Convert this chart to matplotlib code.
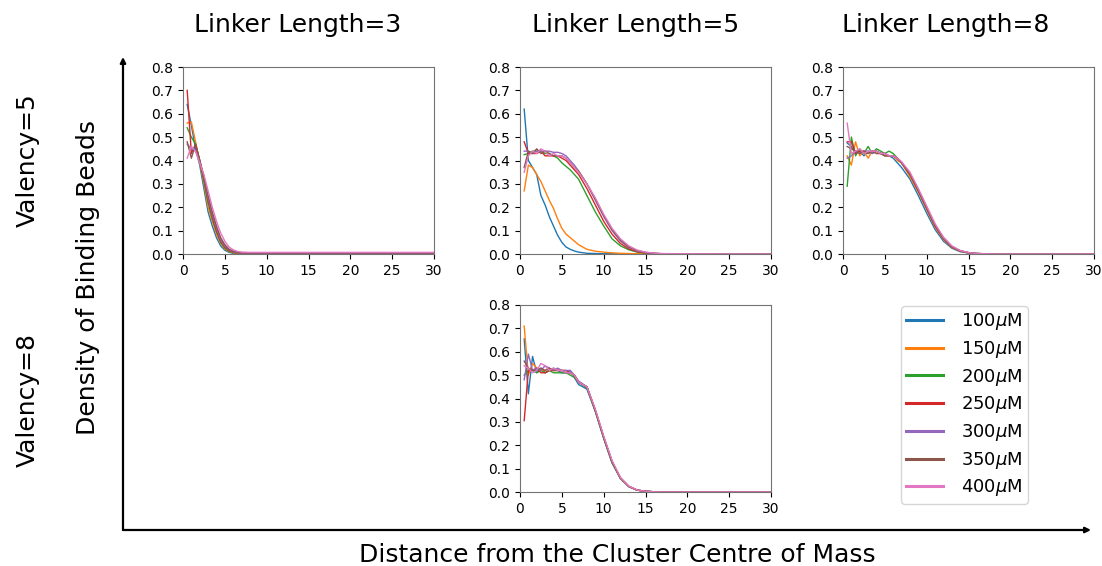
import matplotlib
matplotlib.use("Agg")
import matplotlib.pyplot as plt
from matplotlib.patches import FancyArrowPatch

# bin centres (distance from cluster centre of mass)
r = [0.5, 1.0, 1.5, 2.0, 2.5, 3.0, 3.5, 4.0, 4.5, 5.0, 5.5, 6.0, 6.5, 7.0,
     8, 9, 10, 11, 12, 13, 14, 15, 16, 17, 18, 30]

conc_labels = ["100$\\mu$M", "150$\\mu$M", "200$\\mu$M", "250$\\mu$M",
               "300$\\mu$M", "350$\\mu$M", "400$\\mu$M"]

# Valency=5, Linker Length=3
v5_l3 = [
    [.64, .55, .45, .38, .28, .18, .12, .07, .035, .016, .007, .003, .002, .001, .001, .001, .001, .001, .001, .001, .001, .001, .001, .001, .001, .001],
    [.56, .565, .48, .39, .30, .20, .14, .085, .045, .022, .010, .005, .003, .002, .002, .002, .002, .002, .002, .002, .002, .002, .002, .002, .002, .002],
    [.54, .50, .47, .40, .31, .22, .15, .095, .05, .026, .012, .006, .004, .003, .002, .002, .002, .002, .002, .002, .002, .002, .002, .002, .002, .002],
    [.70, .43, .47, .40, .32, .23, .16, .10, .056, .03, .015, .008, .005, .004, .003, .003, .003, .003, .003, .003, .003, .003, .003, .003, .003, .003],
    [.47, .45, .44, .40, .33, .24, .17, .11, .062, .034, .018, .010, .006, .005, .004, .004, .004, .004, .004, .004, .004, .004, .004, .004, .004, .004],
    [.48, .41, .47, .40, .33, .25, .18, .12, .07, .04, .021, .012, .008, .006, .005, .005, .005, .005, .005, .005, .005, .005, .005, .005, .005, .005],
    [.41, .46, .44, .39, .34, .27, .20, .14, .09, .055, .03, .018, .011, .008, .007, .007, .007, .007, .007, .007, .007, .007, .007, .007, .007, .007],
]

# Valency=5, Linker Length=5
v5_l5 = [
    [.62, .40, .37, .34, .25, .21, .16, .12, .08, .05, .03, .02, .013, .008, .003, .002, .001, .001, 0, 0, 0, 0, 0, 0, 0, 0],
    [.27, .38, .37, .34, .31, .27, .23, .195, .15, .11, .085, .07, .055, .04, .02, .012, .008, .005, .003, .002, .001, .001, 0, 0, 0, 0],
    [.425, .43, .44, .44, .44, .43, .43, .42, .41, .39, .375, .36, .34, .32, .25, .18, .12, .065, .035, .018, .008, .004, .002, .001, 0, 0],
    [.48, .43, .43, .43, .44, .42, .42, .42, .42, .41, .40, .38, .36, .34, .28, .21, .14, .085, .045, .022, .010, .005, .002, .001, 0, 0],
    [.44, .44, .43, .44, .44, .44, .44, .435, .435, .43, .42, .40, .38, .355, .30, .23, .16, .10, .055, .028, .013, .006, .003, .001, 0, 0],
    [.37, .44, .43, .45, .43, .44, .43, .42, .42, .42, .41, .39, .37, .355, .30, .235, .165, .105, .06, .03, .015, .007, .003, .001, 0, 0],
    [.35, .42, .44, .43, .45, .44, .42, .43, .42, .42, .41, .39, .37, .35, .30, .24, .17, .11, .065, .035, .017, .008, .004, .002, .001, 0],
]

# Valency=5, Linker Length=8
v5_l8 = [
    [.475, .46, .43, .44, .42, .44, .43, .44, .43, .42, .42, .41, .39, .37, .32, .25, .175, .105, .055, .025, .01, .004, .001, 0, 0, 0],
    [.42, .38, .48, .42, .44, .41, .44, .43, .43, .42, .42, .42, .40, .39, .33, .265, .19, .115, .062, .028, .012, .005, .002, 0, 0, 0],
    [.29, .50, .42, .45, .43, .46, .43, .45, .44, .43, .44, .43, .41, .39, .34, .27, .195, .12, .066, .03, .013, .005, .002, .001, 0, 0],
    [.48, .48, .43, .44, .44, .43, .44, .44, .43, .43, .42, .42, .41, .39, .34, .27, .195, .12, .066, .03, .013, .005, .002, .001, 0, 0],
    [.41, .42, .44, .43, .44, .44, .43, .44, .43, .43, .42, .42, .41, .39, .345, .275, .20, .125, .068, .032, .014, .006, .002, .001, 0, 0],
    [.46, .45, .44, .43, .44, .43, .44, .43, .43, .42, .42, .42, .41, .39, .345, .275, .20, .125, .07, .033, .014, .006, .002, .001, 0, 0],
    [.56, .43, .44, .45, .43, .44, .44, .44, .43, .43, .42, .42, .41, .395, .35, .28, .205, .13, .072, .035, .015, .006, .002, .001, 0, 0],
]

# Valency=8, Linker Length=5
v8_l5 = [
    [.655, .42, .58, .51, .53, .51, .52, .53, .52, .51, .51, .52, .49, .46, .44, .345, .23, .125, .058, .023, .008, .003, .001, 0, 0, 0],
    [.71, .50, .55, .53, .52, .52, .53, .52, .52, .52, .51, .51, .50, .47, .45, .35, .235, .13, .06, .024, .008, .003, .001, 0, 0, 0],
    [.50, .52, .52, .51, .52, .51, .52, .51, .51, .51, .51, .50, .49, .47, .445, .345, .23, .125, .058, .023, .008, .003, .001, 0, 0, 0],
    [.305, .52, .52, .53, .51, .51, .52, .52, .52, .52, .52, .51, .50, .47, .45, .35, .235, .13, .06, .024, .008, .003, .001, 0, 0, 0],
    [.48, .59, .52, .53, .52, .54, .53, .52, .53, .52, .52, .52, .50, .475, .45, .35, .235, .13, .06, .024, .008, .003, .001, 0, 0, 0],
    [.56, .53, .52, .52, .53, .52, .53, .52, .52, .52, .51, .51, .50, .47, .45, .35, .235, .13, .06, .024, .008, .003, .001, 0, 0, 0],
    [.54, .53, .51, .52, .55, .54, .52, .53, .52, .52, .51, .51, .50, .47, .45, .355, .24, .135, .062, .025, .009, .003, .001, 0, 0, 0],
]

W, H = 1102, 566
fig = plt.figure(figsize=(W / 100, H / 100), dpi=100)


def px_axes(left, top, right, bottom):
    return fig.add_axes([left / W, 1 - bottom / H, (right - left) / W, (bottom - top) / H])


panels = [
    (px_axes(183, 67, 434, 254), v5_l3),
    (px_axes(520, 67, 771, 254), v5_l5),
    (px_axes(843, 67, 1094, 254), v5_l8),
    (px_axes(520, 305, 771, 492), v8_l5),
]

for ax, data in panels:
    for i, ys in enumerate(data):
        ax.plot(r, ys, lw=1, color=f"C{i}", label=conc_labels[i])
    ax.set_xlim(0, 30)
    ax.set_ylim(0, 0.8)
    ax.set_xticks([0, 5, 10, 15, 20, 25, 30])
    ax.set_yticks([0, 0.1, 0.2, 0.3, 0.4, 0.5, 0.6, 0.7, 0.8])
    ax.tick_params(labelsize=10)
    for s in ax.spines.values():
        s.set_color("0.45")

# legend with thicker lines
handles = [plt.Line2D([], [], color=f"C{i}", lw=2.2) for i in range(7)]
fig.legend(handles, conc_labels, loc="upper left",
           bbox_to_anchor=(901 / W, 1 - 306 / H), fontsize=13,
           handlelength=2.0, handletextpad=1.0, labelspacing=0.37,
           borderpad=0.3, borderaxespad=0)

# column titles
for x, t in [(298, "Linker Length=3"), (636, "Linker Length=5"), (946, "Linker Length=8")]:
    fig.text(x / W, 1 - 25 / H, t, ha="center", va="center", fontsize=18)

# row labels and shared axis labels
fig.text(28 / W, 1 - 160 / H, "Valency=5", rotation=90, ha="center", va="center", fontsize=18)
fig.text(28 / W, 1 - 400 / H, "Valency=8", rotation=90, ha="center", va="center", fontsize=18)
fig.text(88 / W, 1 - 278 / H, "Density of Binding Beads", rotation=90, ha="center", va="center", fontsize=18)
fig.text(617 / W, 1 - 555 / H, "Distance from the Cluster Centre of Mass", ha="center", va="center", fontsize=18)

# big arrows
for start, end in [((123, 530), (123, 57)), ((123, 530), (1091, 530))]:
    fig.add_artist(FancyArrowPatch((start[0] / W, 1 - start[1] / H), (end[0] / W, 1 - end[1] / H),
                                   transform=fig.transFigure, arrowstyle="-|>",
                                   mutation_scale=8, lw=1.6, color="k",
                                   shrinkA=0, shrinkB=0))

fig.savefig("out.png", dpi=100)
